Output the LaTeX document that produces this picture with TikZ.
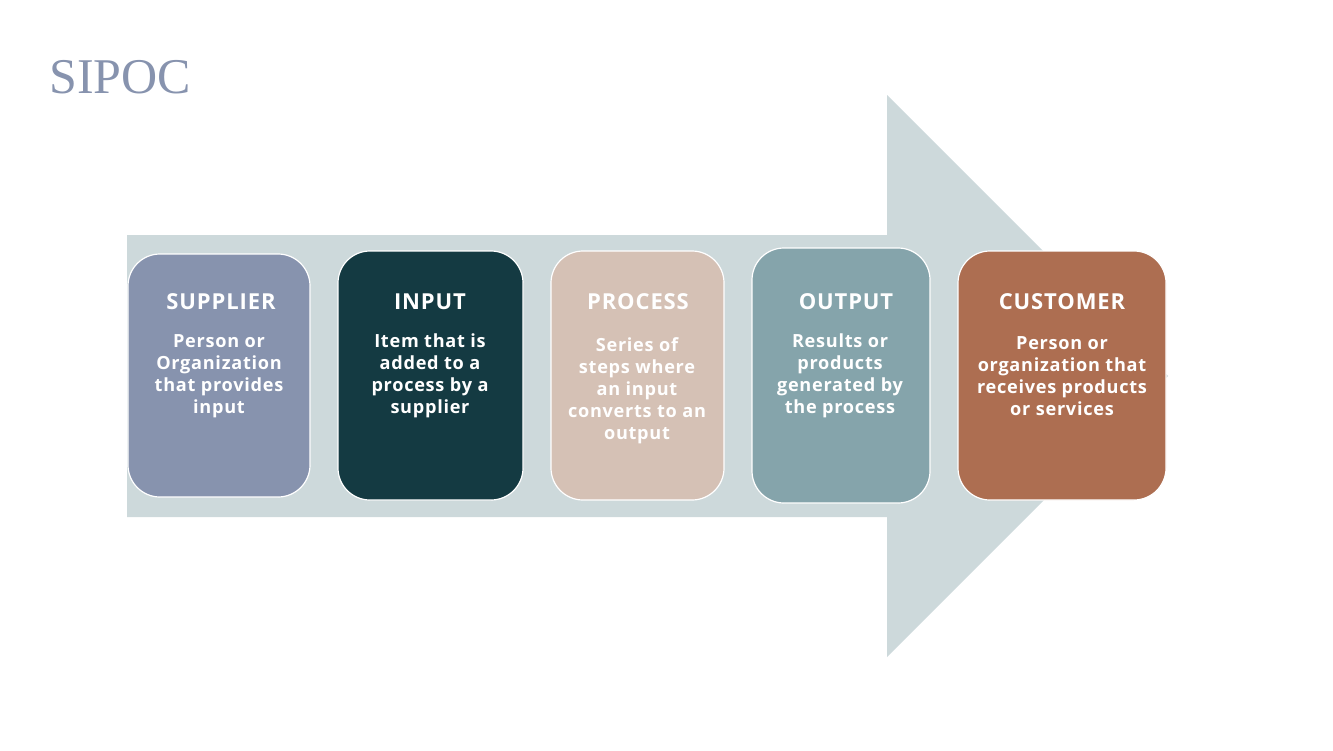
\documentclass[tikz,border=0pt]{standalone}
\usepackage{fontspec}
\setmainfont{Liberation Serif}
\setsansfont{Open Sans}
\usetikzlibrary{positioning}
\definecolor{arrowgrey}{HTML}{CDD9DB}
\definecolor{supplierblue}{HTML}{8793AE}
\definecolor{inputteal}{HTML}{143A42}
\definecolor{processsand}{HTML}{D5C1B5}
\definecolor{outputsea}{HTML}{85A4AB}
\definecolor{customerrust}{HTML}{AD6E51}
\newfontfamily\boxfont[LetterSpace=4]{Open Sans}
\tikzset{
  sipocbox/.style={draw=white, line width=0.9pt, rounded corners=24pt, inner sep=0pt},
  boxhead/.style={text=white, inner sep=0.75pt, font=\boxfont\bfseries\fontsize{16.5}{19}\selectfont},
  boxbody/.style={text=white, inner sep=0.75pt, align=center, font=\boxfont\bfseries\fontsize{13.6}{16.5}\selectfont}
}
\begin{document}
\begin{tikzpicture}[x=0.75pt,y=0.75pt,yscale=-1,xscale=1]
                                \useasboundingbox (0,0) rectangle (1333,750);
                                \fill [arrowgrey] (127,235) -- (887,235) -- (887,95) -- (1168,376) -- (887,657) -- (887,517) -- (127,517) -- cycle ;
                                \draw (49,93) node (title) [anchor=base west][inner sep=0pt] [text=supplierblue, font=\fontsize{37.5}{40}\selectfont] {SIPOC};
                                \draw (219,375.5) node (supplier) [sipocbox, fill=supplierblue, minimum width=136.5pt, minimum height=182.25pt] {};
                                \draw (430.5,375.5) node (input) [sipocbox, fill=inputteal, minimum width=138.75pt, minimum height=186.75pt] {};
                                \draw (637.5,375.5) node (process) [sipocbox, fill=processsand, minimum width=129.75pt, minimum height=186.75pt] {};
                                \draw (841,375.5) node (output) [sipocbox, fill=outputsea, minimum width=133.5pt, minimum height=191.25pt] {};
                                \draw (1062,375.5) node (customer) [sipocbox, fill=customerrust, minimum width=156pt, minimum height=186.75pt] {};
                                \draw (221,302) node (supplierhead) [boxhead] {SUPPLIER};
                                \draw (430,302) node (inputhead) [boxhead] {INPUT};
                                \draw (638,302) node (processhead) [boxhead] {PROCESS};
                                \draw (846,302) node (outputhead) [boxhead] {OUTPUT};
                                \draw (1062,302) node (customerhead) [boxhead] {CUSTOMER};
                                \draw (219,376) node (supplierbody) [boxbody] {Person or\\Organization\\that provides\\input};
                                \draw (430,376) node (inputbody) [boxbody] {Item that is\\added to a\\process by a\\supplier};
                                \draw (637,391) node (processbody) [boxbody] {Series of\\steps where\\an input\\converts to an\\output};
                                \draw (840,376) node (outputbody) [boxbody] {Results or\\products\\generated by\\the process};
                                \draw (1062,376) node (customerbody) [boxbody] {Person or\\organization that\\receives products\\or services};
\end{tikzpicture}
\end{document}
